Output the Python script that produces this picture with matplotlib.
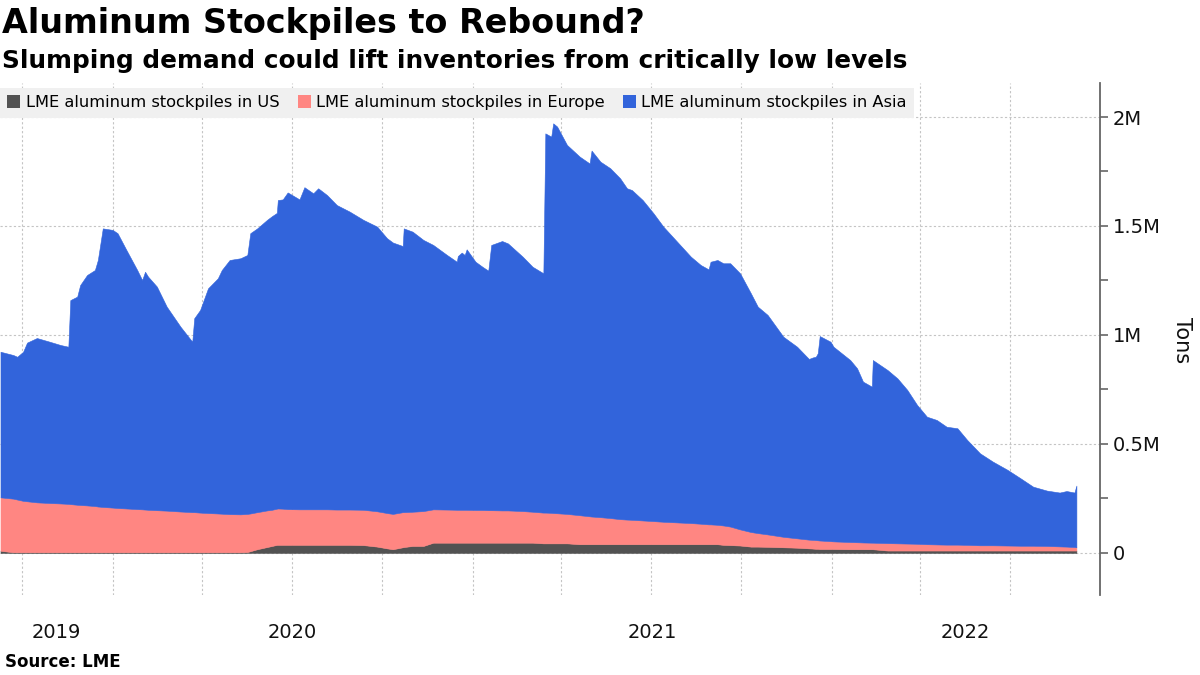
import matplotlib
matplotlib.use("Agg")
import matplotlib.pyplot as plt
import matplotlib.dates as mdates
import matplotlib.transforms as mtransforms
from matplotlib.patches import Patch
from matplotlib.ticker import FuncFormatter, MultipleLocator
import pandas as pd

# LME aluminum stockpiles by region, thousand tonnes
dates = [
    '2019-09-09', '2019-09-22', '2019-09-26', '2019-10-02', '2019-10-06', '2019-10-16', '2019-10-29', '2019-11-09',
    '2019-11-17', '2019-11-19', '2019-11-26', '2019-11-29', '2019-12-06', '2019-12-14', '2019-12-17', '2019-12-22',
    '2020-01-01', '2020-01-06', '2020-01-15', '2020-01-26', '2020-01-31', '2020-02-03', '2020-02-06', '2020-02-15',
    '2020-02-25', '2020-03-10', '2020-03-22', '2020-03-24', '2020-03-30', '2020-04-07', '2020-04-17', '2020-04-21',
    '2020-04-29', '2020-05-10', '2020-05-17', '2020-05-20', '2020-05-27', '2020-06-06', '2020-06-11', '2020-06-16',
    '2020-06-17', '2020-06-22', '2020-06-27', '2020-07-09', '2020-07-14', '2020-07-23', '2020-07-28', '2020-08-06',
    '2020-08-16', '2020-08-29', '2020-09-12', '2020-09-26', '2020-10-06', '2020-10-12', '2020-10-22', '2020-10-23',
    '2020-11-01', '2020-11-12', '2020-11-22', '2020-12-06', '2020-12-16', '2020-12-17', '2020-12-21', '2020-12-24',
    '2020-12-26',
    '2021-01-04', '2021-01-11', '2021-01-17', '2021-01-20', '2021-01-31', '2021-02-06', '2021-02-21', '2021-03-03',
    '2021-03-14', '2021-03-16', '2021-03-22', '2021-03-24', '2021-03-28', '2021-04-07', '2021-04-20', '2021-04-30',
    '2021-05-02', '2021-05-11', '2021-05-21', '2021-05-31', '2021-06-07', '2021-06-12', '2021-06-23', '2021-07-04',
    '2021-07-14', '2021-07-28', '2021-08-11', '2021-08-21', '2021-08-29', '2021-08-31', '2021-09-07', '2021-09-13',
    '2021-09-20', '2021-09-30', '2021-10-11', '2021-10-18', '2021-10-28', '2021-11-13', '2021-11-27', '2021-12-09',
    '2021-12-13', '2021-12-16', '2021-12-18', '2021-12-20', '2021-12-31',
    '2022-01-03', '2022-01-20', '2022-01-27', '2022-02-02', '2022-02-11', '2022-02-12', '2022-02-27', '2022-03-09',
    '2022-03-19', '2022-03-29', '2022-04-08', '2022-04-18', '2022-04-28', '2022-05-09', '2022-05-19', '2022-06-01',
    '2022-06-14', '2022-06-29', '2022-07-12', '2022-07-25', '2022-08-08', '2022-08-21', '2022-08-28', '2022-09-05',
    '2022-09-07',
]

us_stocks = [
    10, 3, 3, 3, 3, 3, 3, 3, 3, 3, 3, 3, 3, 3, 3, 3,
    3, 3, 3, 3, 3, 3, 3, 3, 3, 3, 3, 3, 3, 3, 3, 3, 3, 3, 4, 8, 17, 27, 32, 37,
    37, 37, 37, 37, 37, 37, 37, 37, 37, 37, 36, 29, 21, 17, 26, 27, 32, 32, 47, 47,
    47, 47, 47, 47, 47,
    47, 47, 47, 47, 47, 47, 47, 47, 44, 44, 44, 44, 44, 44, 40, 40, 40, 40, 40, 40,
    40, 40, 40, 40, 40, 40, 40, 40, 40, 40, 40, 37, 36, 34, 29, 29, 28, 26, 24, 21,
    20, 19, 19, 18, 18,
    18, 17, 17, 17, 17, 17, 11, 11, 11, 11, 11, 11, 11, 11, 11, 11, 11, 11, 11, 11,
    11, 11, 11, 11, 11,
]

europe_stocks = [
    245, 246, 242, 236, 234, 229, 226, 224, 222, 221, 218, 217, 215, 212, 210, 208,
    205, 203, 201, 198, 197, 196, 195, 193, 191, 187, 184, 184, 182, 180, 178, 177,
    175, 174, 175, 173, 170, 168, 166, 166, 167, 166, 164, 163, 163, 163, 163, 163,
    162, 162, 162, 162, 162, 162, 161, 160, 157, 160, 153, 152, 151, 151, 151, 151,
    151,
    150, 150, 149, 149, 148, 148, 145, 142, 141, 141, 140, 139, 138, 135, 133, 128,
    127, 124, 120, 115, 113, 112, 109, 106, 103, 100, 97, 94, 91, 91, 89, 89,
    85, 74, 67, 62, 57, 48, 43, 40, 40, 40, 39, 39, 36,
    35, 33, 32, 31, 30, 30, 34, 33, 32, 31, 29, 28, 27, 27, 26, 24,
    24, 23, 22, 22, 21, 19, 18, 16, 15,
]

asia_stocks = [
    668, 659, 655, 684, 728, 754, 740, 727, 721, 936, 955, 1009, 1057, 1083, 1131, 1278,
    1274, 1261, 1186, 1097, 1052, 1091, 1070, 1026, 936, 848, 782, 890, 930, 1031, 1079, 1118,
    1166, 1175, 1188, 1286, 1302, 1333, 1347, 1357, 1415, 1419, 1453, 1422, 1478, 1450, 1473, 1442,
    1397, 1367, 1330, 1306, 1261, 1245, 1221, 1302, 1285, 1244, 1213, 1168, 1138, 1164, 1180, 1169,
    1195,
    1139, 1116, 1099, 1217, 1236, 1225, 1167, 1124, 1098, 1740, 1726, 1788, 1774, 1693, 1645, 1619,
    1679, 1631, 1605, 1564, 1520, 1513, 1470, 1412, 1354, 1288, 1222, 1187, 1170, 1205, 1215, 1203,
    1208, 1175, 1095, 1039, 1007, 918, 879, 829, 837, 841, 858, 938, 915,
    893, 835, 798, 738, 716, 838, 794, 757, 705, 637, 585, 571, 541, 534, 481, 422,
    384, 347, 310, 271, 254, 247, 255, 250, 283,
]

series_labels = ['LME aluminum stockpiles in US', 'LME aluminum stockpiles in Europe',
                 'LME aluminum stockpiles in Asia']
series_colors = ['#525252', '#ff8682', '#3264db']
years = [2019, 2020, 2021, 2022]

x = pd.to_datetime(dates)
us = [v * 1000 for v in us_stocks]
europe = [v * 1000 for v in europe_stocks]
asia = [v * 1000 for v in asia_stocks]

fig = plt.figure(figsize=(12, 6.75), dpi=100)
ax = fig.add_axes([0.0, 1 - 595 / 675, 1100 / 1200, 512 / 675])

ax.stackplot(x, us, europe, asia, colors=series_colors, linewidth=0.4,
             edgecolor='face')

x_start = pd.Timestamp('2019-09-08 12:00')
x_end = pd.Timestamp('2022-10-01')
ax.set_xlim(x_start, x_end)
ax.set_ylim(-193000, 2156000)

# Axis styling: only the right spine
for side in ['left', 'top', 'bottom']:
    ax.spines[side].set_visible(False)
ax.spines['right'].set_color('#666666')
ax.spines['right'].set_linewidth(1.3)

ax.yaxis.tick_right()
ax.yaxis.set_major_locator(MultipleLocator(500000))
ax.yaxis.set_minor_locator(MultipleLocator(250000))


def fmt_tons(v, pos):
    if v == 0:
        return '0'
    return '{:g}M'.format(v / 1e6)


ax.yaxis.set_major_formatter(FuncFormatter(fmt_tons))
ax.tick_params(axis='y', which='both', length=6, width=1.2, color='#666666',
               labelsize=14, pad=3, labelcolor='#111111')

ax.xaxis.set_major_locator(mdates.MonthLocator(bymonth=[1, 4, 7, 10]))
ax.tick_params(axis='x', length=0, labelbottom=False)

ax.set_axisbelow(True)
ax.grid(True, which='major', color='#c4c4c4', linestyle=(0, (2, 2)), linewidth=0.8)

# Year labels centred on the visible part of each year
trans = mtransforms.blended_transform_factory(ax.transData, ax.transAxes)
for yr in years:
    a = max(pd.Timestamp(f'{yr}-01-01'), x_start)
    b = min(pd.Timestamp(f'{yr + 1}-01-01'), x_end)
    ax.text(a + (b - a) / 2, -38 / 512, str(yr), transform=trans, ha='center',
            va='center', fontsize=14, color='#111111')

fig.text(1182 / 1200, 1 - 340 / 675, 'Tons', rotation=270, ha='center', va='center',
         fontsize=15, color='#111111')

handles = [Patch(facecolor=c, edgecolor='none') for c in series_colors]
leg = fig.legend(handles, series_labels, loc='upper left', bbox_to_anchor=(0.0, 1 - 88 / 675),
                 ncol=3, fontsize=11.7, frameon=True, fancybox=False, facecolor='#f0f0f0',
                 edgecolor='none', framealpha=1, handlelength=0.8, handleheight=0.8,
                 handletextpad=0.35, columnspacing=1.1, borderpad=0.45, borderaxespad=0)

fig.text(0.002, 1 - 33 / 675, 'Aluminum Stockpiles to Rebound?', fontsize=24,
         fontweight='bold', va='baseline', color='#000000')
fig.text(0.002, 1 - 68 / 675, 'Slumping demand could lift inventories from critically low levels',
         fontsize=17.8, fontweight='bold', va='baseline', color='#000000')
fig.text(5 / 1200, 1 - 667 / 675, 'Source: LME', fontsize=12, fontweight='bold',
         va='baseline', color='#000000')

fig.savefig('out.png', dpi=100)
plt.close(fig)
